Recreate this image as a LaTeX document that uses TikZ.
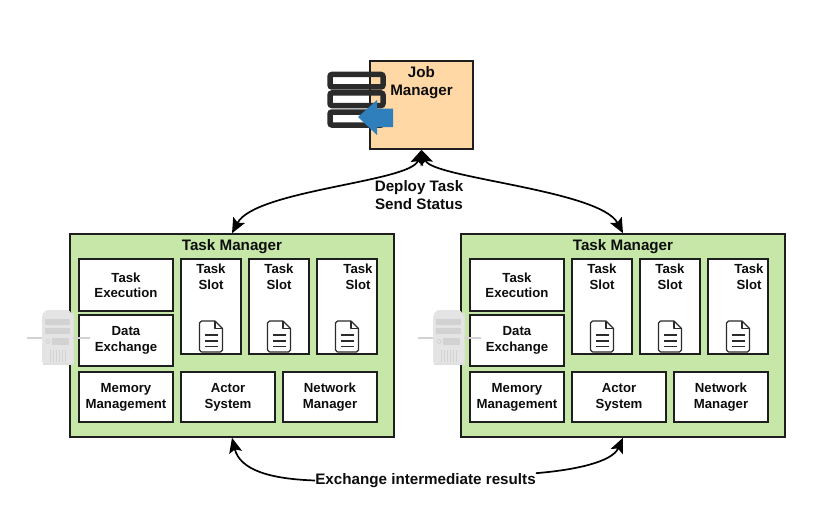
\documentclass[tikz,border=0pt]{standalone}
\usepackage{fontspec}
\setmainfont{Liberation Sans}
\usetikzlibrary{arrows.meta}
\definecolor{jmfill}{HTML}{FFD8A6}
\definecolor{tmfill}{HTML}{C6E7A8}
\definecolor{edgec}{HTML}{1E1E1E}
\definecolor{iconc}{HTML}{2B2B2B}
\definecolor{arrowblue}{HTML}{2F7FBC}
\definecolor{srv}{HTML}{E4E4E4}
\definecolor{srvd}{HTML}{D2D2D2}
\tikzset{
  lbl/.style={font=\bfseries\fontsize{13.2}{16}\selectfont,text=black!95,align=center,inner sep=0pt},
  biglbl/.style={font=\bfseries\fontsize{15.2}{18}\selectfont,text=black!95,align=center,inner sep=0pt},
  whitebox/.style={draw=edgec,line width=1.8pt,fill=white,inner sep=0pt},
  greenbox/.style={draw=edgec,line width=1.5pt,fill=tmfill,inner sep=0pt},
  flow/.style={draw=black,line width=1.7pt,{Stealth[length=15pt,width=13pt,inset=3pt]}-{Stealth[length=15pt,width=13pt,inset=3pt]}},
  oneway/.style={draw=black,line width=1.7pt,-{Stealth[length=15pt,width=13pt,inset=3pt]}},
  docline/.style={draw=iconc,line width=1.3pt},
  stackbar/.style={draw=iconc,line width=5.5pt,rounded corners=2pt},
}
% name, x1, y1, width, height, text
\newcommand{\wbox}[6]{%
  \node[whitebox,lbl,minimum width=#4pt,minimum height=#5pt] (#1) at ({#2+#4/2},{#3+#5/2}) {#6};}
% name, x1, label centre x
\newcommand{\slotbox}[3]{%
  \node[whitebox,minimum width=60pt,minimum height=95pt] (#1) at ({#2+30},306.5) {};
  \node[lbl] (#1t) at (#3,277) {Task\\Slot};
  \begin{scope}[shift={(#2+18.5,321)}]
    \draw[iconc,line width=1.2pt,line join=round] (2,0) -- (15.5,0) -- (23,7.5) -- (23,29) -- ++(-2,2) -- (2,31) -- ++(-2,-2) -- (0,2) -- cycle;
    \draw[iconc,line width=1.2pt,line join=round] (15.5,0) -- (15.5,7.5) -- (23,7.5);
    \draw[docline] (5.5,14) -- (18,14);
    \draw[docline] (5.5,20) -- (18,20);
    \draw[docline] (5.5,25.5) -- (18,25.5);
  \end{scope}}
% server icon at x offset
\newcommand{\servericon}[1]{%
  \begin{scope}[shift={(#1,0)}]
    \fill[black!12] (43,313) -- (74,313) -- (74,365) -- (43,365) -- cycle;
    \draw[srvd,line width=1.2pt] (27,338) -- (42,338);
    \draw[srvd,line width=1.2pt] (73,338) -- (90,338);
    \fill[srv,rounded corners=1.5pt] (42,316) -- (46,310) -- (69,310) -- (73,316) -- (73,363) -- (42,363) -- cycle;
    \fill[srvd] (45,319) rectangle (70,325);
    \fill[srvd] (45,328) rectangle (70,334);
    \fill[srvd] (52,338) rectangle (69,345);
    \draw[srvd,line width=.7pt] (48,341.5) circle (2pt);
    \foreach \vx in {50,53,...,66} {\draw[srvd,line width=.7pt] (\vx,350) -- (\vx,362);}
  \end{scope}}
% prefix, x offset
\newcommand{\taskmanager}[2]{%
  \node[greenbox,minimum width=324pt,minimum height=203pt] (#1) at ({232+#2},335.5) {};
  \node[biglbl] (#1h) at ({232+#2},246.5) {Task Manager};
  \wbox{#1e}{79+#2}{259}{94}{52}{Task\\[-1pt]Execution}
  \wbox{#1d}{79+#2}{315}{94}{51}{Data\\Exchange}
  \slotbox{#1a}{181+#2}{211+#2}
  \slotbox{#1b}{249+#2}{279+#2}
  \slotbox{#1c}{317+#2}{358+#2}
  \wbox{#1m}{79+#2}{372}{94}{50}{Memory\\Management}
  \wbox{#1s}{181+#2}{372}{94}{50}{Actor\\System}
  \wbox{#1n}{283+#2}{372}{94}{50}{Network\\Manager}
  \servericon{#2}}
\begin{document}
\begin{tikzpicture}[x=1pt,y=-1pt]
  \useasboundingbox (0,0) rectangle (825,511);
  \fill[white] (0,0) rectangle (825,511);
  % job manager
  \node[draw=edgec,line width=1.5pt,fill=jmfill,minimum width=103pt,minimum height=88pt,inner sep=0pt] (jm) at (421.5,105) {};
  \node[biglbl] (jmt) at (421.5,82.5) {Job\\Manager};
  \draw[stackbar] (330,74.5) rectangle (383,87);
  \draw[stackbar] (330,93) rectangle (383,105.5);
  \draw[stackbar] (330,112) rectangle (383,125);
  \fill[arrowblue] (358,117) -- (377,100) -- (377,108.5) -- (393,108.5) -- (393,127) -- (377,127) -- (377,135) -- cycle;
  % task managers
  \taskmanager{tl}{0}
  \taskmanager{tr}{391}
  % labels
  \node[biglbl] (dt) at (419,195) {Deploy Task\\Send Status};
  \node[biglbl] (ex) at (425.5,480.5) {Exchange intermediate results};
  % connectors
  \draw[flow] (jm.south) .. controls (411,182) and (255,190) .. (tl.north);
  \draw[flow] (jm.south) .. controls (432,178) and (600,190) .. (tr.north);
  \draw[oneway] (ex.west) .. controls (270,479) and (240,470) .. (tl.south);
  \draw[oneway] (ex.north east) .. controls (575,470) and (612,462) .. (tr.south);
\end{tikzpicture}
\end{document}
